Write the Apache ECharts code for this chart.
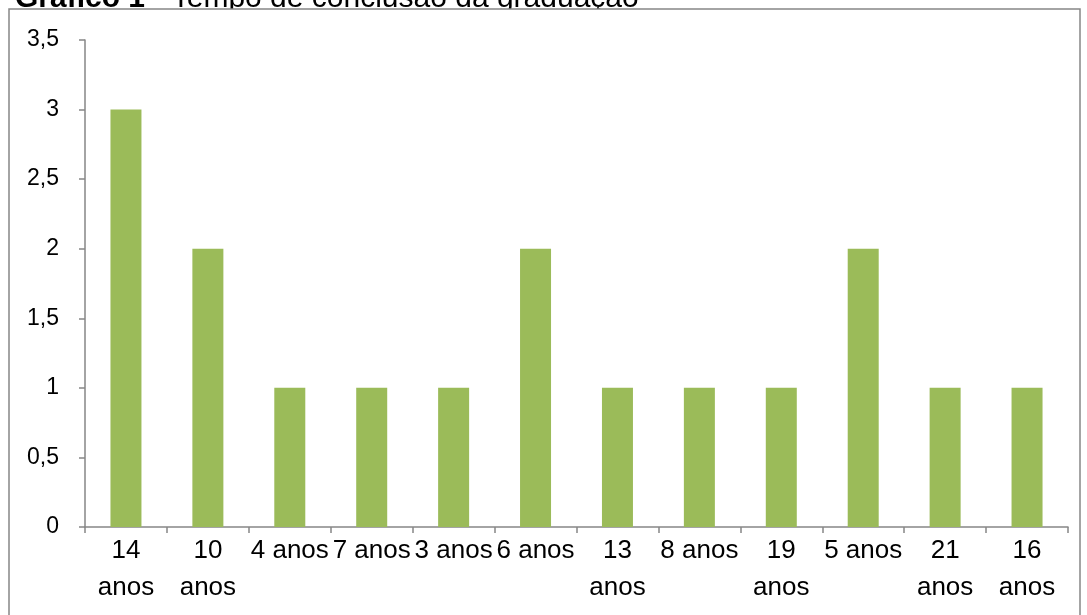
<!DOCTYPE html>
<html><head><meta charset="utf-8">
<script src="https://cdn.jsdelivr.net/npm/echarts@6/dist/echarts.min.js"></script>
<style>html,body{margin:0;padding:0;background:#fff}#c{width:1087px;height:615px}</style>
</head><body><div id="c"></div>
<script>
const titleBold = 'Gráfico 1';
const titleRest = ' - Tempo de conclusão da graduação';
const categories = ['14 anos','10 anos','4 anos','7 anos','3 anos','6 anos','13 anos','8 anos','19 anos','5 anos','21 anos','16 anos'];
const values = [3,2,1,1,1,2,1,1,1,2,1,1];
const yTicks = {min:0, max:3.5, interval:0.5};

const chart = echarts.init(document.getElementById('c'));
const axisGray = '#868686';
const ff = 'Liberation Sans, Arial, sans-serif';
chart.setOption({
  animation:false,
  backgroundColor:'#fff',
  textStyle:{fontFamily:ff},
  graphic:[
    {type:'text', x:15, y:14, style:{
      text:'{b|'+titleBold+'}'+titleRest,
      rich:{b:{fontWeight:'bold', fontSize:30, fontFamily:ff, fill:'#000'}},
      fontSize:30, fontFamily:ff, fill:'#000', verticalAlign:'bottom'
    }},
    {type:'rect', shape:{x:9, y:9, width:1071, height:20}, style:{fill:'#fff', stroke:null}},
    {type:'rect', shape:{x:9, y:9, width:1071, height:620}, style:{fill:'none', stroke:axisGray, lineWidth:1.5}}
  ],
  grid:{left:85, right:19, top:40, bottom:88, containLabel:false},
  xAxis:{
    type:'category', data:categories,
    axisLine:{lineStyle:{color:axisGray, width:1.5}},
    axisTick:{show:true, alignWithLabel:false, length:6, lineStyle:{color:axisGray, width:1.5}},
    axisLabel:{color:'#000', fontSize:26, fontFamily:ff, interval:0, margin:5, lineHeight:37,
      formatter:v => /^\d\d /.test(v) ? v.replace(' ','\n') : v}
  },
  yAxis:{
    type:'value', min:yTicks.min, max:yTicks.max, interval:yTicks.interval,
    axisLine:{show:true, lineStyle:{color:axisGray, width:1.5}},
    axisTick:{show:true, length:6, lineStyle:{color:axisGray, width:1.5}},
    splitLine:{show:false},
    axisLabel:{color:'#000', fontSize:23, fontFamily:ff, margin:26, formatter:v => String(v).replace('.',',')}
  },
  series:[{type:'bar', data:values, barWidth:31, itemStyle:{color:'#9BBB59'}}]
});
</script></body></html>
